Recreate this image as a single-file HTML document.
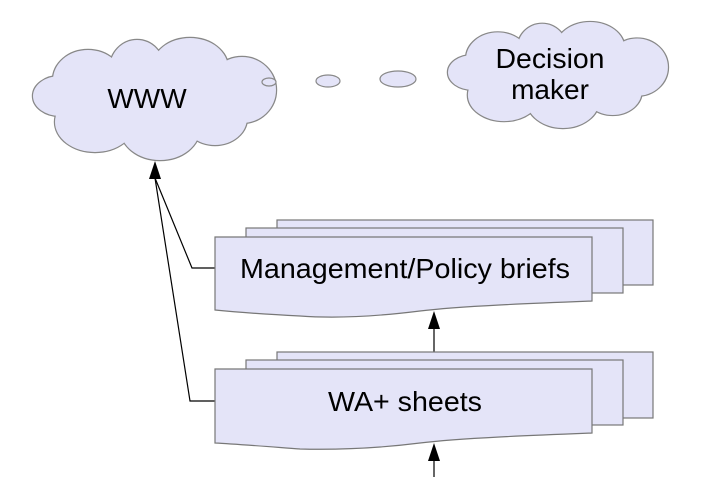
<!DOCTYPE html>
<html><head><style>
html,body{margin:0;padding:0;background:#fff;}
svg{display:block;}
text{font-family:"Liberation Sans",sans-serif;fill:#000;}
</style></head><body>
<svg width="726" height="477" viewBox="0 0 726 477" xmlns="http://www.w3.org/2000/svg">
<defs>
<g id="cl">
<ellipse cx="88" cy="80" rx="35" ry="30"/>
<ellipse cx="137" cy="68" rx="27" ry="28"/>
<ellipse cx="190" cy="68" rx="38" ry="30"/>
<ellipse cx="242" cy="90" rx="34" ry="33"/>
<ellipse cx="215" cy="118" rx="32" ry="27"/>
<ellipse cx="160" cy="128" rx="40" ry="32"/>
<ellipse cx="95" cy="122" rx="40" ry="30"/>
<ellipse cx="60" cy="96" rx="27" ry="20"/>
<ellipse cx="150" cy="100" rx="80" ry="40"/>
</g>
</defs>
<g stroke="#888" stroke-width="2.4" fill="#e4e4f8"><use href="#cl"/></g>
<g fill="#e4e4f8"><use href="#cl"/></g>
<g transform="translate(448,22) scale(0.905,0.869) translate(-33,-38)">
<g stroke="#888" stroke-width="2.7" fill="#e4e4f8"><use href="#cl"/></g>
<g fill="#e4e4f8"><use href="#cl"/></g>
</g>
<text x="147" y="108" font-size="28" text-anchor="middle">WWW</text>
<text x="550" y="68" font-size="28" text-anchor="middle" textLength="109" lengthAdjust="spacingAndGlyphs">Decision</text>
<text x="550" y="99" font-size="28" text-anchor="middle">maker</text>
<g fill="#e4e4f8" stroke="#888" stroke-width="1.2">
<ellipse cx="269" cy="82" rx="7" ry="4"/>
<ellipse cx="328" cy="81" rx="12" ry="6"/>
<ellipse cx="398" cy="79" rx="18" ry="8"/>
</g>
<g stroke="#000" stroke-width="1.2" fill="none">
<polyline points="155,178 192,268 215,268"/>
<polyline points="155,178 190,401 215,401"/>
<line x1="434" y1="352" x2="434" y2="328"/>
<line x1="434" y1="477" x2="434" y2="460"/>
</g>
<g fill="#000">
<polygon points="155,161 149,179 161,179"/>
<polygon points="434,311 428,329 440,329"/>
<polygon points="434,443 428,461 440,461"/>
</g>
<g fill="#e4e4f8" stroke="#777" stroke-width="1.2">
<rect x="277" y="220" width="376" height="65"/>
<rect x="246" y="228" width="377" height="65"/>
<path d="M215,237 H592 V301 C540,303 460,306 420,311 C380,316 340,319 300,316 C260,314 235,312 215,310 Z"/>
<rect x="277" y="352" width="376" height="66"/>
<rect x="246" y="360" width="377" height="65"/>
<path d="M215,369 H592 V433 C540,435 460,438 420,443 C380,448 340,450 300,449 C260,446 235,444 215,443 Z"/>
</g>
<text x="240" y="278" font-size="28" textLength="330" lengthAdjust="spacingAndGlyphs">Management/Policy briefs</text>
<text x="328" y="411" font-size="28" textLength="154" lengthAdjust="spacingAndGlyphs">WA+ sheets</text>
</svg>
</body></html>
